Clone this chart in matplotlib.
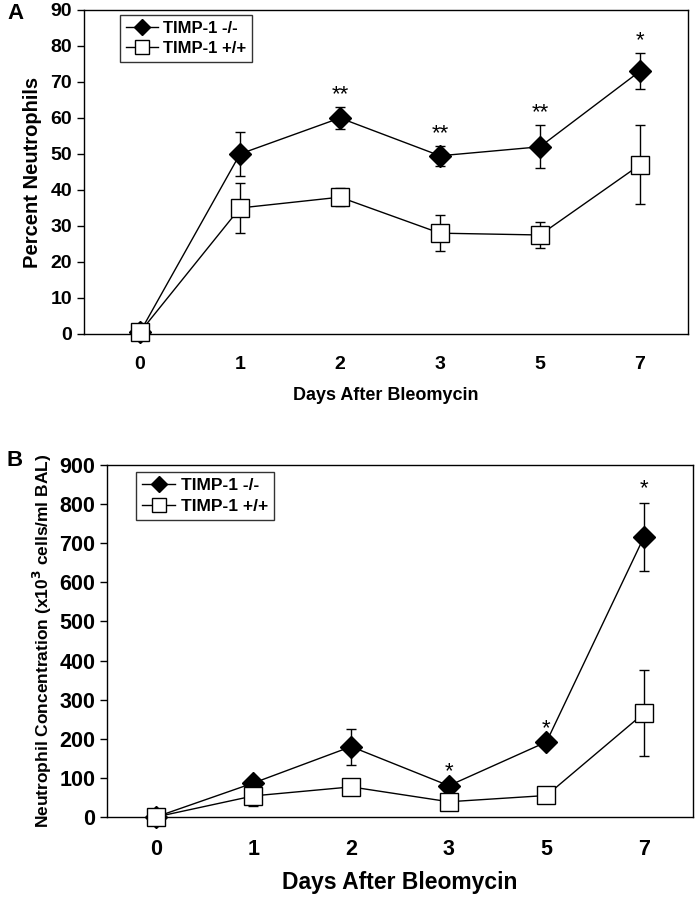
import numpy as np
import matplotlib
matplotlib.use("Agg")
import matplotlib.pyplot as plt

plt.rcParams['font.family'] = ['Liberation Sans', 'DejaVu Sans']
plt.rcParams['font.weight'] = 'bold'

days = ['0', '1', '2', '3', '5', '7']

# panel A: percent neutrophils
pct_ko = [0.5, 50, 60, 49.5, 52, 73]
pct_ko_err = [0.5, 6, 3, 2.8, 6, 5]
pct_wt = [0.5, 35, 38, 28, 27.5, 47]
pct_wt_err = [1.5, 7, 2.5, 5, 3.5, 11]
pct_stars = ['', '', '**', '**', '**', '*']

# panel B: neutrophil concentration
conc_ko = [0, 87, 180, 80, 192, 717]
conc_ko_err = [0, 0, 46, 0, 0, 87]
conc_wt = [0, 54, 77, 39, 55, 266]
conc_wt_err = [0, 25, 0, 0, 0, 110]
conc_stars = ['', '', '', '*', '*', '*']


def draw(ax, ko, ko_err, wt, wt_err, stars, star_off, legend_pos, fs_leg, fs_tick):
    x = np.arange(len(days))
    for y, e in ((ko, ko_err), (wt, wt_err)):
        eb = ax.errorbar(x, y, yerr=e, fmt='none', ecolor='black', elinewidth=1,
                         capsize=3.5, capthick=1, zorder=1)
        for art in eb.lines[1] + eb.lines[2]:
            art.set_clip_on(False)
    ax.plot(x, ko, color='black', lw=1, marker='D', ms=11, mfc='black',
            mec='black', label='TIMP-1 -/-', zorder=2, clip_on=False)
    ax.plot(x, wt, color='black', lw=1, marker='s', ms=13, mfc='white',
            mec='black', mew=1, label='TIMP-1 +/+', zorder=3, clip_on=False)
    for i, s in enumerate(stars):
        if s:
            top = ko[i] + ko_err[i]
            ax.text(x[i], top + star_off, s, ha='center', va='bottom',
                    fontsize=16, fontweight='normal')
    ax.set_xticks(x)
    ax.set_xticklabels(days)
    ax.tick_params(axis='x', length=0, pad=16, labelsize=fs_tick)
    ax.tick_params(axis='y', direction='out', length=5, width=1, labelsize=fs_tick)
    for sp in ax.spines.values():
        sp.set_linewidth(1)
    leg = ax.legend(loc='upper left', bbox_to_anchor=legend_pos, frameon=True,
                    fancybox=False, edgecolor='black', fontsize=fs_leg,
                    handlelength=1.9, borderpad=0.35, labelspacing=0.3,
                    handletextpad=0.3, borderaxespad=0, markerscale=0.75)
    leg.get_frame().set_linewidth(1)


fig = plt.figure(figsize=(6.96, 8.99), dpi=100)

ax1 = fig.add_axes([0.1207, 0.6285, 0.8678, 0.3604])
draw(ax1, pct_ko, pct_ko_err, pct_wt, pct_wt_err, pct_stars, 0.5,
     (0.06, 0.985), 12, 14)
ax1.set_xlim(-0.56, 5.48)
ax1.set_ylim(0, 90)
ax1.set_yticks(np.arange(0, 91, 10))
ax1.set_ylabel('Percent Neutrophils', fontsize=14.5, fontweight='bold', labelpad=6)
ax1.set_xlabel('Days After Bleomycin', fontsize=13, fontweight='bold', labelpad=10)
fig.text(0.01, 0.997, 'A', fontsize=16, fontweight='bold', va='top')

ax2 = fig.add_axes([0.1537, 0.0912, 0.842, 0.3916])
draw(ax2, conc_ko, conc_ko_err, conc_wt, conc_wt_err, conc_stars, 8,
     (0.05, 0.98), 12.5, 15.5)
ax2.set_xlim(-0.5, 5.5)
ax2.set_ylim(0, 900)
ax2.set_yticks(np.arange(0, 901, 100))
ax2.set_ylabel('Neutrophil Concentration (x10$^{\\mathbf{3}}$ cells/ml BAL)',
               fontsize=12.5, fontweight='bold', labelpad=4)
ax2.set_xlabel('Days After Bleomycin', fontsize=16.5, fontweight='bold', labelpad=8)
fig.text(0.01, 0.500, 'B', fontsize=16, fontweight='bold', va='top')

fig.savefig('out.png', dpi=100)
